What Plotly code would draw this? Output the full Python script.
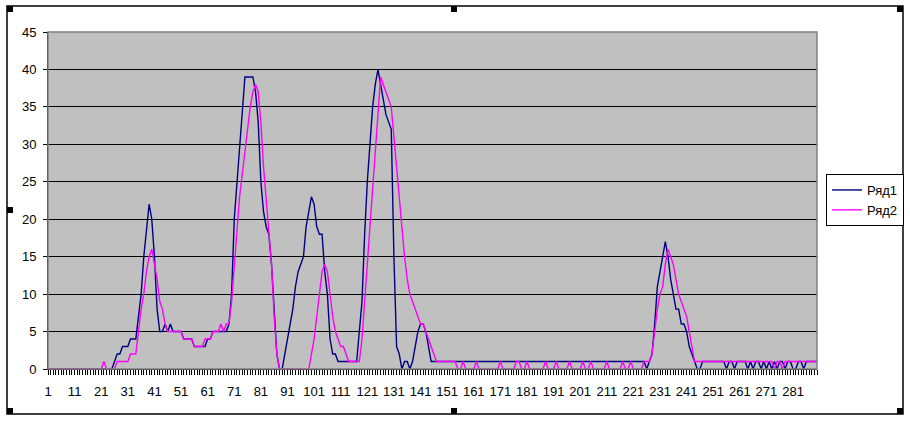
import plotly.graph_objects as go

# категории (номера точек)
cats = list(range(1, 291))

# Ряд1
ryad1 = [
    0, 0, 0, 0, 0, 0, 0, 0, 0, 0,
    0, 0, 0, 0, 0, 0, 0, 0, 0, 0,
    0, 0, 0, 0, 0, 1, 2, 2, 3, 3,
    3, 4, 4, 4, 7, 10, 15, 19, 22, 20,
    15, 8, 5, 5, 6, 5, 6, 5, 5, 5,
    5, 4, 4, 4, 4, 3, 3, 3, 3, 3,
    4, 4, 5, 5, 5, 5, 5, 5, 6, 10,
    20, 25, 30, 35, 39, 39, 39, 39, 37, 33,
    25, 21, 19, 18, 14, 8, 2, 0, 0, 2,
    4, 6, 8, 11, 13, 14, 15, 19, 21, 23,
    22, 19, 18, 18, 13, 10, 4, 2, 2, 1,
    1, 1, 1, 1, 1, 1, 1, 5, 9, 18,
    25, 30, 35, 38, 40, 38, 36, 34, 33, 32,
    15, 3, 2, 0, 1, 1, 0, 1, 3, 5,
    6, 6, 5, 3, 1, 1, 1, 1, 1, 1,
    1, 1, 1, 1, 1, 1, 1, 1, 1, 1,
    1, 1, 1, 1, 1, 1, 1, 1, 1, 1,
    1, 1, 1, 1, 1, 1, 1, 1, 1, 1,
    1, 1, 1, 1, 1, 1, 1, 1, 1, 1,
    1, 1, 1, 1, 1, 1, 1, 1, 1, 1,
    1, 1, 1, 1, 1, 1, 1, 1, 1, 1,
    1, 1, 1, 1, 1, 1, 1, 1, 1, 1,
    1, 1, 1, 1, 1, 0, 1, 2, 6, 11,
    13, 15, 17, 15, 12, 10, 8, 8, 6, 6,
    5, 3, 2, 1, 0, 0, 1, 1, 1, 1,
    1, 1, 1, 1, 1, 0, 1, 1, 0, 1,
    1, 1, 1, 0, 1, 0, 1, 1, 0, 1,
    0, 1, 0, 1, 0, 1, 1, 0, 1, 1,
    0, 0, 1, 1, 0, 1, 1, 1, 1, 1,
]

# Ряд2
ryad2 = [
    0, 0, 0, 0, 0, 0, 0, 0, 0, 0,
    0, 0, 0, 0, 0, 0, 0, 0, 0, 0,
    0, 1, 0, 0, 0, 0, 1, 1, 1, 1,
    1, 2, 2, 2, 5, 8, 10, 13, 15, 16,
    14, 12, 9, 8, 6, 5, 5, 5, 5, 5,
    5, 4, 4, 4, 4, 3, 3, 3, 3, 4,
    4, 4, 5, 5, 5, 6, 5, 6, 6, 9,
    14, 19, 23, 26, 29, 32, 35, 37, 38, 37,
    33, 27, 23, 18, 14, 7, 2, 0, 0, 0,
    0, 0, 0, 0, 0, 0, 0, 0, 0, 2,
    4, 7, 10, 13, 14, 13, 10, 7, 5, 4,
    3, 3, 2, 1, 1, 1, 1, 1, 4, 9,
    15, 20, 25, 30, 35, 39, 38, 37, 36, 35,
    31, 27, 22, 18, 15, 12, 10, 9, 8, 7,
    6, 6, 5, 4, 3, 2, 1, 1, 1, 1,
    1, 1, 1, 1, 0, 0, 1, 0, 0, 0,
    0, 1, 0, 0, 0, 0, 0, 0, 0, 0,
    1, 0, 0, 0, 0, 0, 1, 1, 0, 0,
    1, 0, 0, 0, 0, 0, 0, 1, 0, 0,
    0, 1, 0, 0, 0, 0, 1, 0, 0, 0,
    0, 1, 0, 0, 1, 0, 0, 0, 0, 0,
    1, 0, 0, 0, 0, 0, 1, 0, 0, 1,
    0, 0, 0, 0, 1, 1, 1, 2, 5, 8,
    10, 11, 14, 16, 15, 14, 12, 10, 9, 8,
    7, 5, 3, 1, 1, 1, 1, 1, 1, 1,
    1, 1, 1, 1, 1, 1, 1, 1, 1, 1,
    1, 1, 1, 1, 1, 1, 1, 1, 1, 1,
    1, 1, 1, 0, 1, 1, 0, 1, 1, 1,
    1, 1, 1, 1, 1, 1, 1, 1, 1, 1,
]

x_ticks = list(range(1, 291, 10))
y_ticks = [0, 5, 10, 15, 20, 25, 30, 35, 40, 45]

W, H = 910, 423
L, T, R, B = 48, 32, 817, 369


# пиксели -> координаты paper
def px(x):
    return (x - L) / (R - L)


def py(y):
    return (B - y) / (B - T)


fig = go.Figure()

fig.add_trace(go.Scatter(x=cats, y=ryad1, mode='lines', name='Ряд1',
                         line=dict(color='#000080', width=1.4)))
fig.add_trace(go.Scatter(x=cats, y=ryad2, mode='lines', name='Ряд2',
                         line=dict(color='#FF00FF', width=1.4)))

# рамка диаграммы и маркеры выделения
shapes = [
    dict(type='rect', xref='paper', yref='paper',
         x0=px(7), x1=px(903), y0=py(6), y1=py(414),
         line=dict(color='black', width=1.5), layer='below'),
]
for hx, hy in [(7, 6), (451, 6), (897, 6), (7, 207), (897, 207),
               (7, 408), (451, 408), (897, 408)]:
    shapes.append(dict(type='rect', xref='paper', yref='paper',
                       x0=px(hx), x1=px(hx + 6), y0=py(hy), y1=py(hy + 6),
                       fillcolor='black', line=dict(width=0)))

fig.update_layout(
    width=W, height=H,
    margin=dict(l=L, r=W - R, t=T, b=H - B, autoexpand=False),
    paper_bgcolor='white',
    plot_bgcolor='#C0C0C0',
    font=dict(family='Liberation Sans, Arial', size=13, color='black'),
    showlegend=True,
    legend=dict(x=px(826), xanchor='left', y=py(200), yanchor='middle',
                bordercolor='black', borderwidth=1, bgcolor='white',
                font=dict(size=13), itemwidth=30, tracegroupgap=0),
    shapes=shapes,
    xaxis=dict(range=[1, 290], tickvals=x_ticks, ticktext=[str(v) for v in x_ticks],
               showgrid=False, zeroline=False, automargin=False,
               showline=True, linecolor='black', linewidth=1,
               ticks='outside', ticklen=5, tickcolor='black',
               minor=dict(dtick=1, tick0=1, ticks='outside', ticklen=5, tickcolor='black',
                          showgrid=False),
               ticklabelstandoff=5),
    yaxis=dict(range=[0, 45], tickvals=y_ticks, automargin=False,
               showgrid=True, gridcolor='black', gridwidth=1,
               zeroline=False,
               showline=True, linecolor='black', linewidth=1,
               ticks='outside', ticklen=4, tickcolor='black',
               ticklabelstandoff=4),
)

# серая рамка области построения
fig.add_shape(type='rect', xref='paper', yref='paper', x0=0, x1=1, y0=0, y1=1,
              line=dict(color='#808080', width=1.5))

# убрать отступ страницы, чтобы график встал в левый верхний угол
fig.write_html('out.html', config={'displayModeBar': False},
               post_script="document.body.style.margin='0';")
